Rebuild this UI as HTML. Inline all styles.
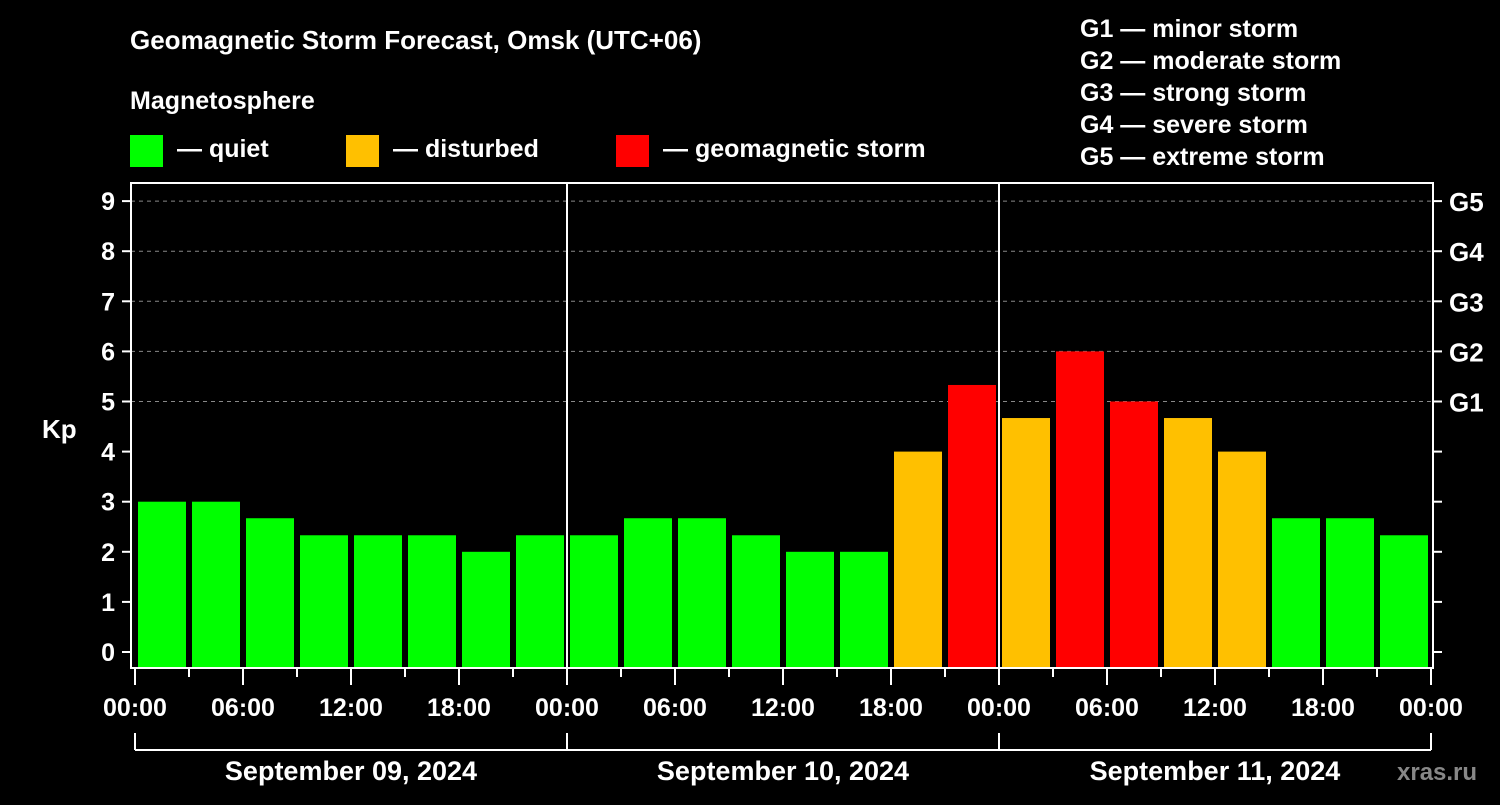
<!DOCTYPE html>
<html><head><meta charset="utf-8"><style>
body{margin:0;background:#000;width:1500px;height:800px;overflow:hidden}
svg text{font-family:"Liberation Sans",Arial,sans-serif;font-weight:bold;fill:#fff}
</style></head><body>
<svg id="c" width="1500" height="800" xmlns="http://www.w3.org/2000/svg">
<rect width="1500" height="800" fill="#000"/>
<text x="130" y="49" font-size="26">Geomagnetic Storm Forecast, Omsk (UTC+06)</text>
<text x="130" y="109" font-size="25">Magnetosphere</text>
<g><rect x="130" y="135" width="33" height="32" fill="#00ff00"/><text x="177" y="157" font-size="25">— quiet</text></g>
<g><rect x="346" y="135" width="33" height="32" fill="#ffc000"/><text x="393" y="157" font-size="25">— disturbed</text></g>
<g><rect x="616" y="135" width="33" height="32" fill="#ff0000"/><text x="663" y="157" font-size="25">— geomagnetic storm</text></g>
<g font-size="25">
<text x="1080" y="37">G1 — minor storm</text><text x="1080" y="69">G2 — moderate storm</text><text x="1080" y="101">G3 — strong storm</text><text x="1080" y="133">G4 — severe storm</text><text x="1080" y="165">G5 — extreme storm</text></g>
<text x="42" y="438" font-size="26">Kp</text>
<g id="plot"></g>
<text x="1397" y="780" font-size="24" fill="#888" style="fill:#888">xras.ru</text>
</svg>
<script>
const values=[3,3,2.67,2.33,2.33,2.33,2,2.33, 2.33,2.67,2.67,2.33,2,2,4,5.33, 4.67,6,5,4.67,4,2.67,2.67,2.33];
const yTicks=[0,1,2,3,4,5,6,7,8,9];
const gLabels=["G1","G2","G3","G4","G5"];
const gLevels=[5,6,7,8,9];
const xLabels=["00:00","06:00","12:00","18:00","00:00","06:00","12:00","18:00","00:00","06:00","12:00","18:00","00:00"];
const days=["September 09, 2024","September 10, 2024","September 11, 2024"];
const NS="http://www.w3.org/2000/svg";
const g=document.getElementById('plot');
const X0=135,HOUR=18,L=131,R=1433,T=183,B=668;
const x=h=>X0+h*HOUR;
const y=v=>652-v*50.1;
function mk(t,a,p){const e=document.createElementNS(NS,t);for(const k in a)e.setAttribute(k,a[k]);(p||g).appendChild(e);return e;}
function col(v){return v>=5?'#ff0000':v>=4?'#ffc000':'#00ff00';}
// grid
gLevels.forEach((v,i)=>{
 const l=mk('line',{x1:L,x2:R,y1:y(v),y2:y(v),stroke:'#888','stroke-dasharray':'4,4','stroke-width':1});
 
 
});
values.forEach((v,i)=>{
 const r=mk('rect',{x:x(i*3)+3,y:y(v),width:48,height:B-y(v),fill:col(v)});
 
 
});
// frame
const f=mk('rect',{x:L,y:T,width:R-L,height:B-T,fill:'none',stroke:'#fff','stroke-width':2});


[1,2].forEach(d=>{
 const l=mk('line',{x1:x(d*24),x2:x(d*24),y1:T,y2:B,stroke:'#fff','stroke-width':2});
 
 
});
yTicks.forEach(v=>{
 mk('line',{x1:L-9,x2:L,y1:y(v),y2:y(v),stroke:'#fff','stroke-width':2});
 mk('line',{x1:R,x2:R+9,y1:y(v),y2:y(v),stroke:'#fff','stroke-width':2});
 const t=mk('text',{x:L-16,y:y(v)+9,'font-size':25,'text-anchor':'end'});t.textContent=v;
 
 
});
gLevels.forEach((v,i)=>{
 const t=mk('text',{x:1449,y:y(v)+10,'font-size':26});t.textContent=gLabels[i];
 
 
});
for(let i=0;i<=24;i++){
 const major=i%2===0;
 mk('line',{x1:x(i*3),x2:x(i*3),y1:B,y2:major?685:677,stroke:'#fff','stroke-width':2});
}
xLabels.forEach((s,i)=>{
 const t=mk('text',{x:x(i*6),y:716,'font-size':25,'text-anchor':'middle'});t.textContent=s;
 
 
});
mk('line',{x1:x(0),x2:x(72),y1:750,y2:750,stroke:'#fff','stroke-width':2});
[0,1,2,3].forEach(d=>mk('line',{x1:x(d*24),x2:x(d*24),y1:733,y2:750,stroke:'#fff','stroke-width':2}));
days.forEach((s,i)=>{
 const t=mk('text',{x:x(i*24+12),y:780,'font-size':27,'text-anchor':'middle'});t.textContent=s;
 
 
});
</script>
</body></html>
